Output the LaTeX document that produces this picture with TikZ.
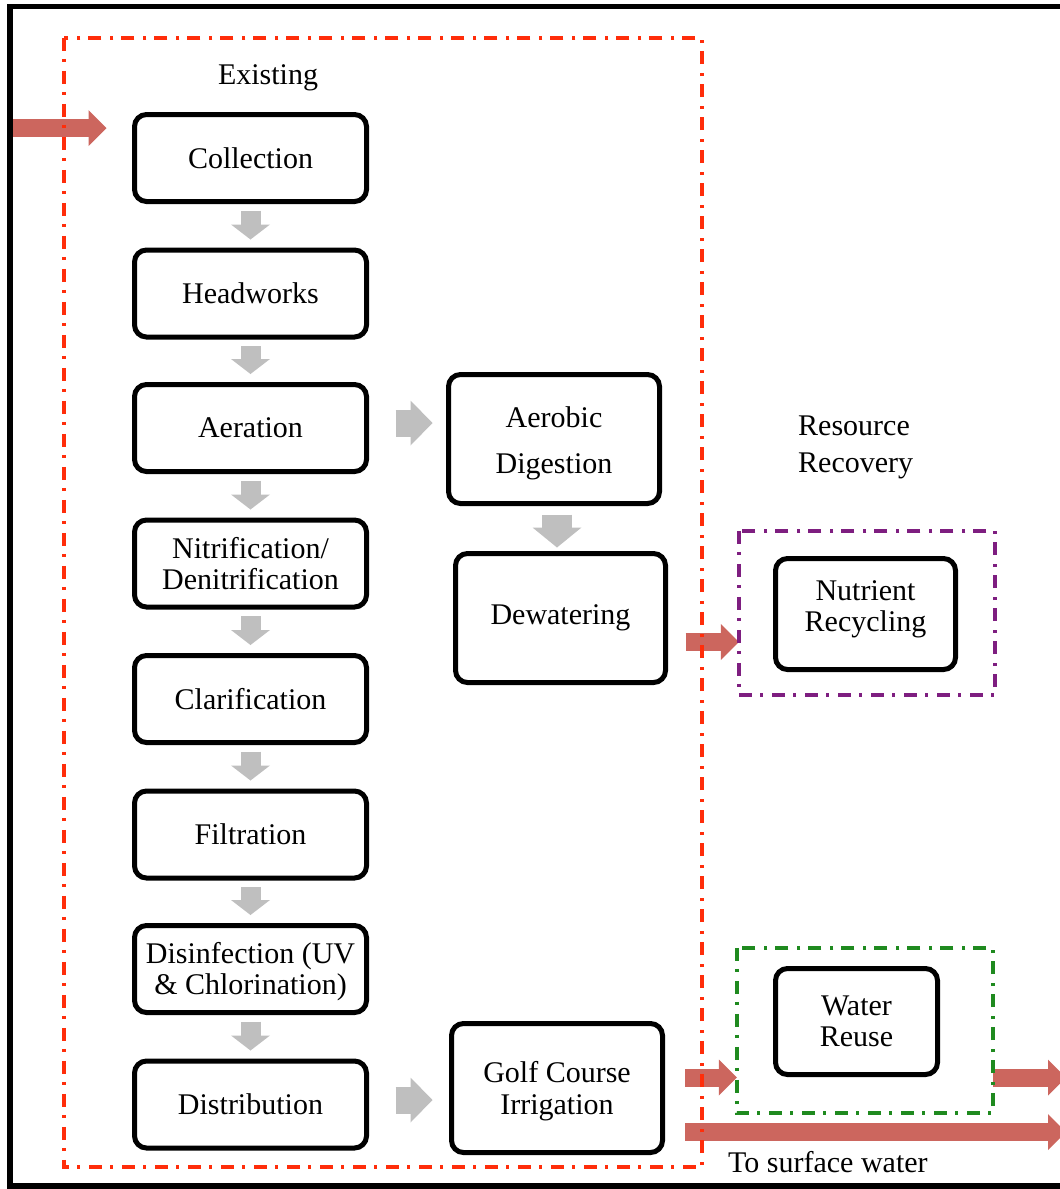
\documentclass[tikz,border=0pt]{standalone}
\usepackage{fontspec}
\setmainfont{Liberation Serif}
\usetikzlibrary{arrows.meta,calc}
\definecolor{redarr}{HTML}{CC665E}
\definecolor{grayarr}{HTML}{BFBFBF}
\definecolor{exred}{HTML}{FF2D0A}
\definecolor{rrpurple}{HTML}{7E1E80}
\definecolor{wrgreen}{HTML}{1F8A1F}
\begin{document}
\begin{tikzpicture}[x=1pt,y=-1pt,
  every node/.style={inner sep=0pt, font=\fontsize{30}{31}\selectfont},
  box/.style={draw=black, line width=5pt, rounded corners=12pt, fill=white, align=center},
  lbox/.style={box, minimum width=232pt, minimum height=87pt},
  rbox/.style={box, minimum width=211pt, minimum height=129pt},
  frame/.style={line width=3.5pt, dash pattern=on 13pt off 8pt on 3pt off 9pt},
  graydown/.style={draw=grayarr, line width=20pt, -{Triangle[length=15pt,width=39pt,line width=0pt]}},
  grayright/.style={draw=grayarr, line width=27pt, -{Triangle[length=22pt,width=45pt,line width=0pt]}},
  graybig/.style={draw=grayarr, line width=30pt, -{Triangle[length=20pt,width=49pt,line width=0pt]}},
  redarrow/.style={draw=redarr, line width=18pt, -{Triangle[length=18pt,width=36pt,line width=0pt]}}]
\useasboundingbox (0,0) rectangle (1060,1189);
\clip (0,0) rectangle (1060,1189);
\draw[line width=5.5pt] (10,6.5) rectangle (1090,1186);

% group frames (positions)
\node[minimum width=638pt, minimum height=1129pt] (existing) at (383,602.5) {};
\node[minimum width=256pt, minimum height=164pt] (nutframe) at (867,613) {};
\node[minimum width=256pt, minimum height=165pt] (reuseframe) at (865,1030.5) {};

% labels
\node (exlabel) at (268,78) {Existing};
\node[align=left, anchor=west, font=\fontsize{30}{37}\selectfont] (rr) at (798,447.5) {Resource\\Recovery};
\node[anchor=west] (surf) at (728,1162) {To surface water};

% left column
\node[lbox] (col)  at (250.5,158)    {Collection};
\node[lbox] (head) at (250.5,293.5)  {Headworks};
\node[lbox] (aer)  at (250.5,428)    {Aeration};
\node[lbox] (nit)  at (250.5,563.5)  {Nitrification/\\Denitrification};
\node[lbox] (cla)  at (250.5,699)    {Clarification};
\node[lbox] (fil)  at (250.5,834.5)  {Filtration};
\node[lbox] (dis)  at (250.5,969)    {};
\node[align=center] (distext) at ($(dis)+(0,3)$) {Disinfection (UV\\\& Chlorination)};
\node[lbox] (dist) at (250.5,1104.5) {Distribution};

% middle column
\node[rbox] (aerobic) at (554,439) {};
\node[align=center, font=\fontsize{30}{46}\selectfont] (aerotext) at ($(aerobic)+(0,4)$) {Aerobic\\Digestion};
\node[rbox, minimum width=210pt] (dew) at (560.5,618) {Dewatering};
\node[rbox] (golf) at (557,1088) {};
\node[align=center, font=\fontsize{30}{32}\selectfont] (golftext) at ($(golf)+(0,3)$) {Golf Course\\Irrigation};

% right column
\node[box, minimum width=180pt, minimum height=111pt] (nut) at (865.5,614) {};
\node[align=center] (nuttext) at ($(nut)+(0,-5)$) {Nutrient\\Recycling};
\node[box, minimum width=162pt, minimum height=106pt] (reuse) at (856.5,1021.5) {Water\\Reuse};

% gray arrows
\foreach \a/\b in {col/head, head/aer, aer/nit, nit/cla, cla/fil, fil/dis, dis/dist}
  \draw[graydown] ($(\a.south)+(0,6.5)$) -- ($(\b.north)+(0,-8)$);
\draw[grayright] ($(aer.east)+(26.5,-5)$) coordinate (g1) -- ($(g1 -| aerobic.west)+(-13.5,0)$);
\draw[graybig] ($(aerobic.south)+(3,8.5)$) coordinate (g2) -- ($(g2 |- dew.north)+(0,-3.5)$);
\draw[grayright] ($(dist.east)+(26.5,-4.5)$) coordinate (g3) -- ($(g3 -| golf.west)+(-16.5,0)$);

% red arrows
\coordinate (src) at (13,128);
\coordinate (exit) at (1066,0);
\draw[redarrow] (src) -- ($(src -| col.west)+(-25.5,0)$);
\draw[redarrow] ($(dew.east)+(17.5,24)$) coordinate (r2) -- (r2 -| nutframe.west);
\draw[redarrow] ($(golf.east)+(20,-10.5)$) coordinate (r3) -- (r3 -| reuseframe.west);
\draw[redarrow] (r3 -| reuseframe.east) -- (r3 -| exit);
\draw[redarrow] ($(golf.east)+(20,44)$) coordinate (r5) -- (r5 -| exit);

% dash-dot frames on top
\draw[frame, draw=exred] (existing.north west) rectangle (existing.south east);
\draw[frame, draw=rrpurple] (nutframe.north west) rectangle (nutframe.south east);
\draw[frame, draw=wrgreen] (reuseframe.north west) rectangle (reuseframe.south east);
\end{tikzpicture}
\end{document}
